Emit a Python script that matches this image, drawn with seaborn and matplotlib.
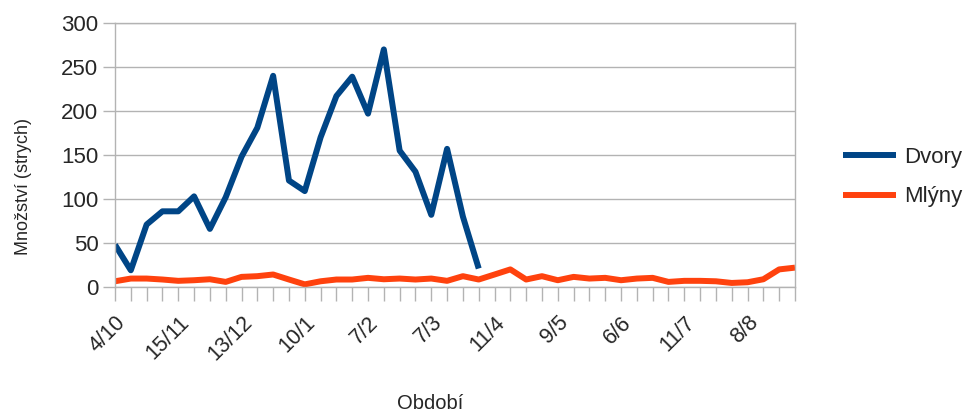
import matplotlib
matplotlib.use("Agg")
import matplotlib.pyplot as plt
import seaborn as sns
import pandas as pd
import numpy as np

# ---- data ----
tick_labels = ["4/10", "15/11", "13/12", "10/1", "7/2", "7/3", "11/4", "9/5", "6/6", "11/7", "8/8"]
label_step = 4
n_periods = 44

dvory = [48, 19, 71, 86, 86, 103, 66, 102, 148, 181, 240, 121, 109, 170, 217, 239,
         197, 270, 155, 131, 82, 157, 80, 21]
mlyny = [6.5, 9.6, 9.6, 8.5, 7, 7.7, 8.8, 5.8, 11.5, 12.3, 14.2, 8.5, 3, 6.5, 8.5, 8.5,
         10.4, 8.8, 9.6, 8.5, 9.6, 7, 12.3, 8.5, 14.2, 20, 8.5, 12.3, 7.7, 11.5, 9.6, 10.4,
         7.7, 9.6, 10.4, 5.8, 7, 7, 6.5, 4.6, 5.4, 8.8, 20, 22]

series_names = ["Dvory", "Mlýny"]
colors = ["#004586", "#ff420e"]

df = pd.concat([
    pd.DataFrame({"x": np.arange(len(dvory)), "y": dvory, "s": series_names[0]}),
    pd.DataFrame({"x": np.arange(len(mlyny)), "y": mlyny, "s": series_names[1]}),
], ignore_index=True)

sns.set_theme(style="white")
plt.rcParams["font.family"] = ["Liberation Sans", "DejaVu Sans"]

fig = plt.figure(figsize=(9.66, 4.19), dpi=100)
ax = fig.add_axes([115/966, 1 - 287/419, (795-115)/966, (287-23)/419])

sns.lineplot(data=df, x="x", y="y", hue="s", palette=dict(zip(series_names, colors)),
             linewidth=4.3, ax=ax, legend=False, solid_capstyle="butt")

grid_c = "#b3b3b3"
ax.set_xlim(0, n_periods - 1)
ax.set_ylim(0, 300)
ax.set_yticks(np.arange(0, 301, 50))
ax.yaxis.grid(True, color=grid_c, linewidth=1)
ax.set_axisbelow(True)
for sp in ax.spines.values():
    sp.set_color(grid_c)
    sp.set_linewidth(1)

ax.set_xticks(np.arange(n_periods))
labels = [""] * n_periods
for i, t in enumerate(tick_labels):
    labels[i * label_step] = t
ax.set_xticklabels(labels, rotation=45, ha="right", rotation_mode="anchor", fontsize=15.5)
ax.tick_params(axis="x", bottom=True, length=10, color=grid_c, width=1, pad=8)
ax.tick_params(axis="y", left=True, length=9, color=grid_c, width=1, pad=3, labelsize=16)

ax.set_xlabel("Období", fontsize=14.5, labelpad=0)
ax.xaxis.set_label_coords((430-115)/680, (287-394)/264)
ax.set_ylabel("Množství (strych)", fontsize=13)
ax.yaxis.set_label_coords((32-115)/680, (287-186)/264)

# legend
from matplotlib.lines import Line2D
handles = [Line2D([0], [0], color=c, linewidth=4.3, solid_capstyle="butt") for c in colors]
fig.legend(handles, series_names, loc="center left", bbox_to_anchor=(843/966, 1 - 177/419),
           frameon=False, fontsize=16, handlelength=2.4, handletextpad=0.35,
           labelspacing=0.85, borderpad=0, borderaxespad=0)

fig.savefig("out.png", dpi=100)
